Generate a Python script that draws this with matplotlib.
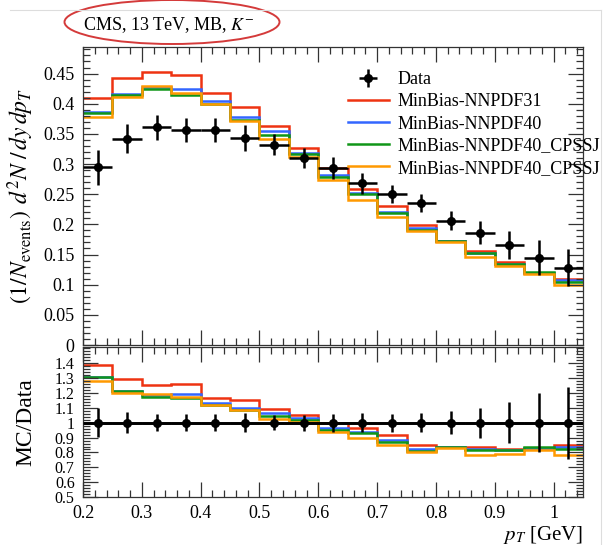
import numpy as np
import matplotlib
matplotlib.use("Agg")
import matplotlib.pyplot as plt
from matplotlib.ticker import MultipleLocator, FixedLocator, FuncFormatter
from matplotlib.patches import Ellipse
from matplotlib.lines import Line2D


# pT binning (GeV)
bin_edges = [0.20, 0.25, 0.30, 0.35, 0.40, 0.45, 0.50, 0.55, 0.60,
             0.65, 0.70, 0.75, 0.80, 0.85, 0.90, 0.95, 1.00, 1.05]

# measured spectrum, K- at 13 TeV
data_y = [0.295, 0.342, 0.361, 0.356, 0.357, 0.343, 0.332, 0.310, 0.293,
          0.268, 0.251, 0.235, 0.206, 0.186, 0.166, 0.145, 0.128]
data_err = [0.029, 0.024, 0.021, 0.020, 0.020, 0.022, 0.017, 0.017, 0.018,
            0.017, 0.015, 0.015, 0.016, 0.019, 0.023, 0.029, 0.031]

# generator predictions
mc_nnpdf31 = [0.410, 0.442, 0.452, 0.448, 0.417, 0.395, 0.363, 0.327, 0.293,
              0.259, 0.231, 0.199, 0.173, 0.155, 0.137, 0.120, 0.109]
mc_nnpdf40 = [0.386, 0.416, 0.428, 0.424, 0.404, 0.378, 0.354, 0.319, 0.282,
              0.252, 0.221, 0.194, 0.173, 0.153, 0.135, 0.120, 0.107]
mc_cpssj_a = [0.385, 0.414, 0.424, 0.415, 0.399, 0.373, 0.348, 0.316, 0.279,
              0.250, 0.218, 0.190, 0.172, 0.152, 0.135, 0.121, 0.105]
mc_cpssj_b = [0.378, 0.411, 0.430, 0.417, 0.400, 0.372, 0.341, 0.311, 0.274,
              0.241, 0.213, 0.189, 0.171, 0.146, 0.131, 0.118, 0.100]

mc_labels = ["MinBias-NNPDF31", "MinBias-NNPDF40", "MinBias-NNPDF40_CPSSJ", "MinBias-NNPDF40_CPSSJ"]
mc_colors = ["#EE3311", "#3366FF", "#109618", "#FF9900"]

ratio_ticks = [0.5, 0.6, 0.7, 0.8, 0.9, 1.0, 1.1, 1.2, 1.3, 1.4]

plt.rcParams["font.family"] = ["Liberation Serif", "DejaVu Serif"]
plt.rcParams["mathtext.fontset"] = "stix"
plt.rcParams["font.size"] = 13


def style_axis(ax, ymajor, yminor, ylabsize):
    ax.xaxis.set_major_locator(MultipleLocator(0.1))
    ax.xaxis.set_minor_locator(MultipleLocator(0.02))
    ax.yaxis.set_major_locator(ymajor)
    ax.yaxis.set_minor_locator(MultipleLocator(yminor))
    ax.tick_params(which="both", direction="in", top=True, right=True, color="#333333", width=0.9)
    ax.tick_params(which="major", length=11, labelsize=13, pad=6)
    ax.tick_params(which="minor", length=5)
    ax.tick_params(axis="y", labelsize=ylabsize)
    ax.yaxis.set_major_formatter(FuncFormatter(lambda v, p: "%g" % round(v, 3)))
    ax.xaxis.set_major_formatter(FuncFormatter(lambda v, p: "%g" % round(v, 3)))
    for s in ax.spines.values():
        s.set_color("#333333")
        s.set_linewidth(0.9)


edges = np.array(bin_edges)
centers = 0.5 * (edges[:-1] + edges[1:])
half_w = 0.5 * np.diff(edges)
data = np.array(data_y)
err = np.array(data_err)
mc_sets = [np.array(m) for m in (mc_nnpdf31, mc_nnpdf40, mc_cpssj_a, mc_cpssj_b)]

fig = plt.figure(figsize=(6.03, 5.45), dpi=100)
ax = fig.add_axes([83 / 603, 1 - 345 / 545, 500 / 603, 298 / 545])
rax = fig.add_axes([83 / 603, 1 - 497 / 545, 500 / 603, 150 / 545], sharex=ax)

# main panel
handles = []
for m, c, lab in zip(mc_sets, mc_colors, mc_labels):
    ax.stairs(m, edges, color=c, lw=1.8, baseline=None)
    handles.append(Line2D([], [], color=c, lw=1.8, label=lab))
eb = ax.errorbar(centers, data, yerr=err, xerr=half_w, fmt="o", color="black",
                 ms=5.5, elinewidth=1.8, capsize=0, zorder=5, label="Data")

ax.set_xlim(0.2, 1.05)
ax.set_ylim(0, 0.494)
style_axis(ax, MultipleLocator(0.05), 0.01, 13)
ax.tick_params(labelbottom=False)
ax.set_ylabel(r"$(1/N_{\mathrm{events}})\;\, d^2N\;/\,dy\,dp_T$", fontsize=17)
ax.yaxis.set_label_coords(-0.094, 0.5)

ax.legend([eb] + handles, ["Data"] + mc_labels, loc="upper left",
          bbox_to_anchor=(0.53, 0.918), frameon=False, fontsize=13,
          handlelength=2.25, handletextpad=0.5, labelspacing=0.28,
          borderpad=0, borderaxespad=0)

# ratio panel
rax.axhline(1.0, color="black", lw=2)
for m, c in zip(mc_sets, mc_colors):
    rax.stairs(m / data, edges, color=c, lw=1.8, baseline=None)
rax.errorbar(centers, np.ones_like(data), yerr=err / data, xerr=half_w, fmt="o",
             color="black", ms=5.5, elinewidth=1.8, capsize=0, zorder=5)
rax.set_ylim(0.5, 1.51)
style_axis(rax, FixedLocator(ratio_ticks), 0.02, 11.5)
rax.set_ylabel("MC/Data", fontsize=17)
rax.yaxis.set_label_coords(-0.094, 0.5)
rax.set_xlabel(r"$p_T$ [GeV]", fontsize=15, loc="right", labelpad=1)

# title and marker ellipse
fig.text(83 / 603, 1 - 25 / 545, r"CMS, 13 TeV, MB, $K^{-}$", fontsize=13, va="center", ha="left")
fig.add_artist(Ellipse((172 / 603, 1 - 22 / 545), 215 / 603, 44 / 545,
                       transform=fig.transFigure, fill=False, edgecolor="#d43a3a", lw=1.4))

# thin page frame
fig.add_artist(Line2D([10 / 603, 601 / 603], [1 - 10 / 545] * 2, transform=fig.transFigure,
                      color="#dddddd", lw=0.8))
fig.add_artist(Line2D([601 / 603] * 2, [1 - 10 / 545, 0], transform=fig.transFigure,
                      color="#dddddd", lw=0.8))

fig.savefig("out.png", dpi=100)
